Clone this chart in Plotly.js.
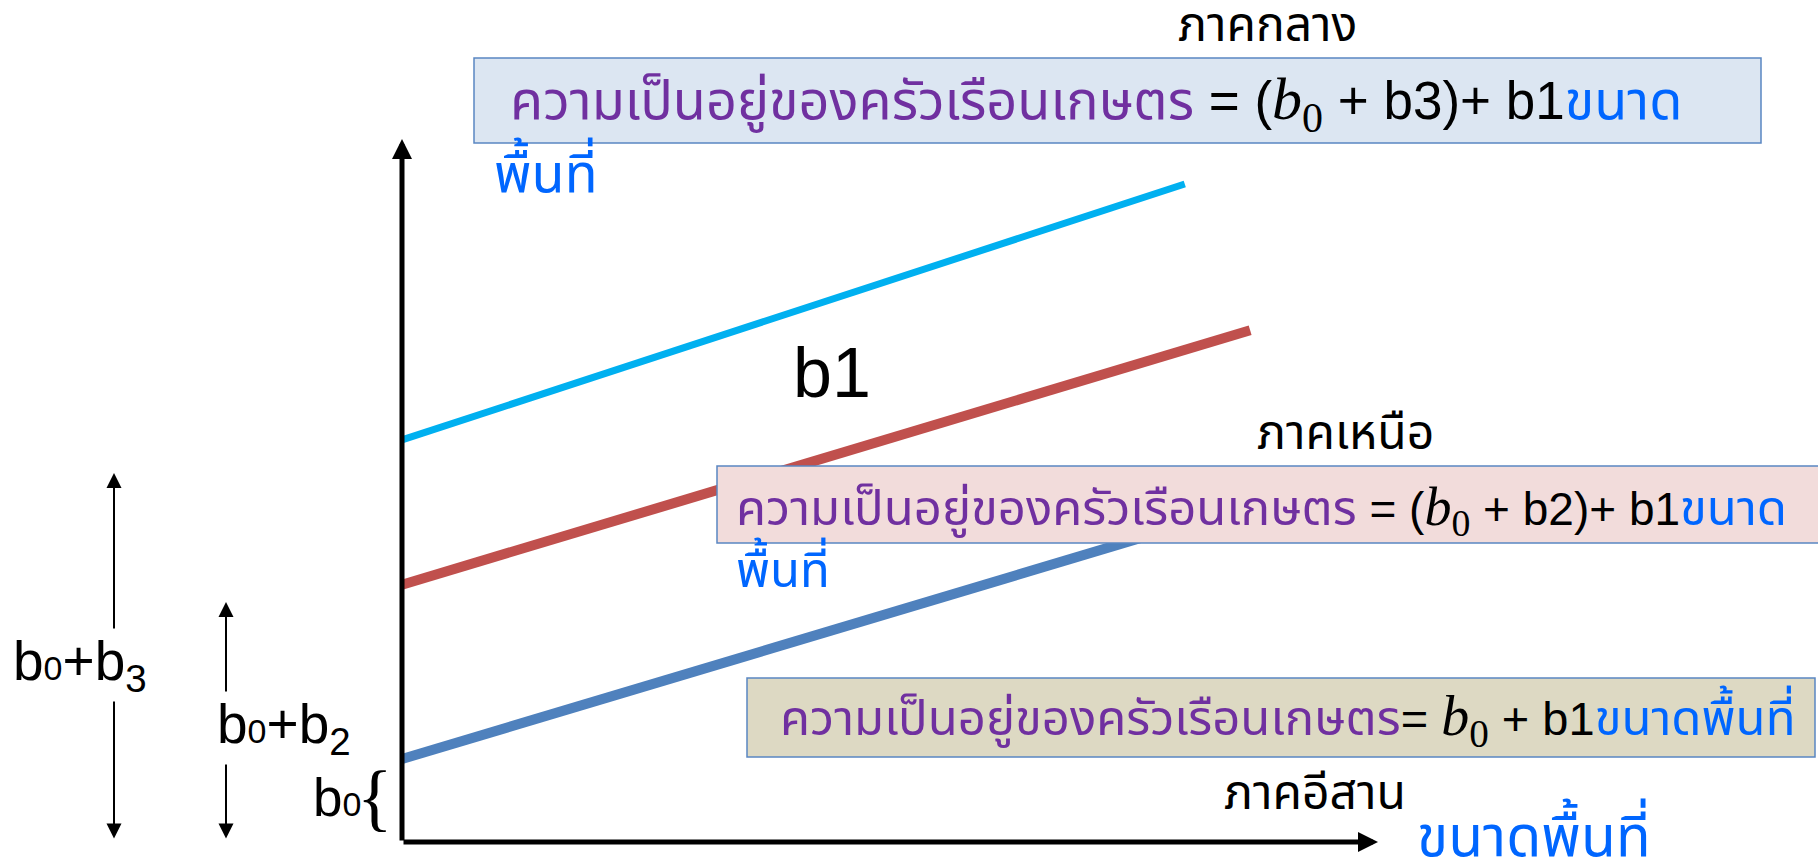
<!DOCTYPE html>
<html>
<head>
<meta charset="utf-8">
<script src="https://cdn.plot.ly/plotly-3.0.1.min.js"></script>
<style>html,body{margin:0;padding:0;background:#fff;}#chart{width:1818px;height:866px;}</style>
</head>
<body>
<div id="chart"></div>
<script>
// ---- data (conceptual units: axes run 0..10) ----
const regions = ['ภาคกลาง', 'ภาคเหนือ', 'ภาคอีสาน'];
const intercepts = [5.72, 3.66, 1.18];   // b0+b3, b0+b2, b0
const lineEndX = [8.02, 8.69, 8.69];
const lineEndY = [9.36, 7.28, 4.79];
const axisMaxX = 10;
const axisMaxY = 10;

// ---- layout helpers ----
const W = 1818, H = 866;
const ox = 402, oy = 842, ux = 97.6, uy = 70.3; // origin pixel & px per unit
const xr = [-ox / ux, (W - ox) / ux];
const yr = [(oy - H) / uy, oy / uy];
const PX = x => x / W, PY = y => 1 - y / H;

const lineColors = ['#00B0F0', '#C0504D', '#4F81BD'];
const lineWidths = [7, 10, 10];

const traces = regions.map((r, i) => ({
  type: 'scatter', mode: 'lines', name: r,
  x: [0, lineEndX[i]], y: [intercepts[i], lineEndY[i]],
  line: {color: lineColors[i], width: lineWidths[i]},
  hoverinfo: 'skip', showlegend: false
}));

const thai = '"Noto Sans Thai", "Noto Sans Thai UI", Loma, Garuda, "DejaVu Sans", sans-serif';
const mixed = '"Liberation Sans", Arial, "Noto Sans Thai", sans-serif';
const purple = '#7030A0', blue = '#0066FF';
function mathB(size) {
  return '<span style="font-family:\'Liberation Serif\',serif;font-size:' + size + 'px"><i>b</i><sub>0</sub></span>';
}
function th(s, color, size) {
  return '<span style="color:' + color + ';font-size:' + size + 'px">' + s + '</span>';
}

function box(x0, y0, x1, y1, fill) {
  return {type: 'rect', xref: 'paper', yref: 'paper', x0: PX(x0), x1: PX(x1), y0: PY(y0), y1: PY(y1),
    fillcolor: fill, line: {color: '#5A86C2', width: 1.5}, layer: 'above'};
}
const shapes = [
  box(474, 58, 1761, 143, '#DCE6F2'),
  box(717, 466, 1840, 543, '#F2DCDB'),
  box(747, 678, 1815, 757, '#DDD9C3')
];

function txt(x, y, text, size, color, xanchor, family, extra) {
  return Object.assign({xref: 'paper', yref: 'paper', x: PX(x), y: PY(y), text: text, showarrow: false,
    xanchor: xanchor || 'center', yanchor: 'middle',
    font: {size: size, color: color || '#000', family: family || thai}}, extra || {});
}

const lhsTop = th('ความเป็นอยู่ของครัวเรือนเกษตร', purple, 54);
const lhsLow = th('ความเป็นอยู่ของครัวเรือนเกษตร', purple, 49);
const annotations = [
  // axes
  {xref: 'x', yref: 'y', axref: 'x', ayref: 'y', x: axisMaxX, y: 0, ax: 0, ay: 0, text: '', showarrow: true,
   arrowhead: 2, arrowsize: 0.8, arrowwidth: 5, arrowcolor: '#000'},
  {xref: 'x', yref: 'y', axref: 'x', ayref: 'y', x: 0, y: axisMaxY, ax: 0, ay: 0, text: '', showarrow: true,
   arrowhead: 2, arrowsize: 0.8, arrowwidth: 5, arrowcolor: '#000'},
  // region labels
  txt(1267, 27, regions[0], 48),
  txt(1345, 434, regions[1], 48),
  txt(1315, 794, regions[2], 48),
  // equations
  txt(508, 103, lhsTop + ' = (' + mathB(60) + ' + b3)+ b1' + th('ขนาด', blue, 54), 53, '#000', 'left', mixed),
  txt(492, 170, th('พื้นที่', blue, 54), 52, blue, 'left', mixed),
  txt(734, 510, lhsLow + ' = (' + mathB(54) + ' + b2)+ b1' + th('ขนาด', blue, 49), 46, '#000', 'left', mixed),
  txt(734, 567, th('พื้นที่', blue, 49), 45, blue, 'left', mixed),
  txt(778, 720, lhsLow + '= ' + mathB(56) + ' + b1' + th('ขนาดพื้นที่', blue, 49), 47, '#000', 'left', mixed),
  // x-axis title
  txt(1534, 839, 'ขนาดพื้นที่', 57, blue, 'center', thai),
  // slope label
  txt(832, 373, 'b1', 70, '#000', 'center', 'Liberation Sans, Arial, sans-serif'),
  // left arrows
  {xref: 'paper', yref: 'paper', x: PX(114), y: PY(473), ax: 0, ay: 367, text: '', showarrow: true,
   arrowhead: 2, startarrowhead: 2, arrowside: 'end+start', arrowsize: 1.5, startarrowsize: 1.5, arrowwidth: 2, arrowcolor: '#000'},
  {xref: 'paper', yref: 'paper', x: PX(226), y: PY(602), ax: 0, ay: 238, text: '', showarrow: true,
   arrowhead: 2, startarrowhead: 2, arrowside: 'end+start', arrowsize: 1.5, startarrowsize: 1.5, arrowwidth: 2, arrowcolor: '#000'},
  txt(80, 665, 'b<span style="font-size:34px">0</span>+b<sub>3</sub>', 55, '#000', 'center', 'Liberation Sans, Arial, sans-serif', {bgcolor: '#fff'}),
  txt(284, 728, 'b<span style="font-size:34px">0</span>+b<sub>2</sub>', 55, '#000', 'center', 'Liberation Sans, Arial, sans-serif', {bgcolor: '#fff'}),
  txt(337, 797, 'b<span style="font-size:34px">0</span>', 53, '#000', 'center', 'Liberation Sans, Arial, sans-serif'),
  txt(375, 797, '{', 74, '#000', 'center', 'Liberation Serif, serif')
];

const layout = {
  width: W, height: H, margin: {l: 0, r: 0, t: 0, b: 0},
  paper_bgcolor: '#fff', plot_bgcolor: '#fff',
  xaxis: {range: xr, visible: false, fixedrange: true},
  yaxis: {range: yr, visible: false, fixedrange: true},
  shapes: shapes, annotations: annotations, showlegend: false
};
Plotly.newPlot('chart', traces, layout, {displayModeBar: false, staticPlot: true});
</script>
</body>
</html>
